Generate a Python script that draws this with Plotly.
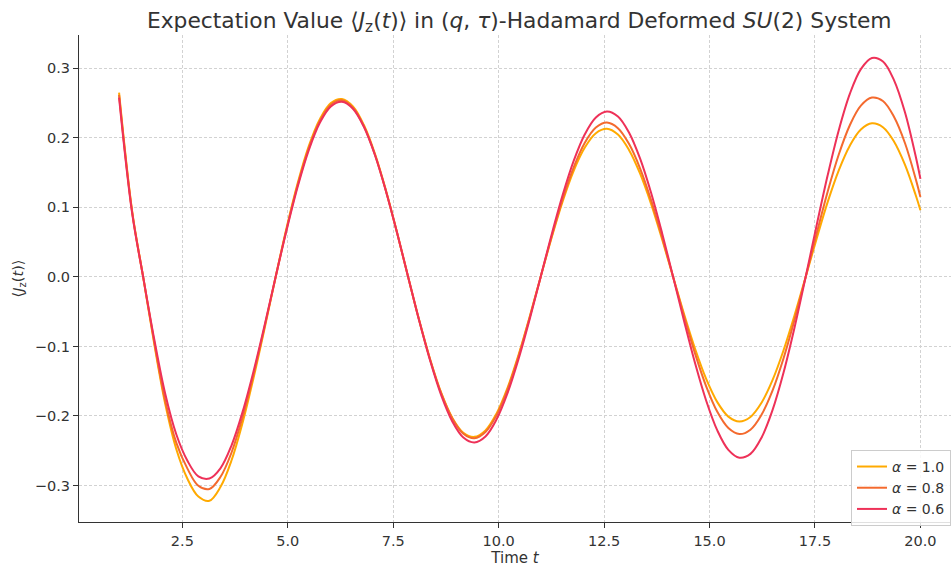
import plotly.graph_objects as go

# time samples
t = [1.0, 1.309, 1.571, 1.833, 2.094, 2.356, 2.618, 2.880, 3.142, 3.403, 3.665,
     3.927, 4.189, 4.451, 4.712, 4.974, 5.236, 5.498, 5.760, 6.021, 6.283,
     6.545, 6.807, 7.069, 7.330, 7.592, 7.854, 8.116, 8.378, 8.639, 8.901,
     9.163, 9.425, 9.687, 9.948, 10.210, 10.472, 10.734, 10.996, 11.257, 11.519,
     11.781, 12.043, 12.305, 12.566, 12.828, 13.090, 13.352, 13.614, 13.875, 14.137,
     14.399, 14.661, 14.923, 15.184, 15.446, 15.708, 15.970, 16.232, 16.493, 16.755,
     17.017, 17.279, 17.541, 17.802, 18.064, 18.326, 18.588, 18.850, 19.111, 19.373,
     19.635, 19.897, 20.0]

jz_a10 = [0.265, 0.095, 0.0, -0.096, -0.1825, -0.2475, -0.290, -0.3159, -0.322, -0.3023, -0.2641,
          -0.210, -0.145, -0.0738, 0.0, 0.0712, 0.135, 0.1881, 0.2269, 0.2502, 0.256,
          0.2453, 0.2182, 0.1768, 0.124, 0.0637, 0.0, -0.0624, -0.119, -0.1669, -0.2026,
          -0.2241, -0.230, -0.2207, -0.1966, -0.1595, -0.112, -0.0576, 0.0, 0.0568, 0.109,
          0.1531, 0.1862, 0.2067, 0.213, 0.2048, 0.1827, 0.1488, 0.105, 0.0542, 0.0,
          -0.054, -0.104, -0.1471, -0.1801, -0.2009, -0.208, -0.2014, -0.181, -0.1485, -0.1055,
          -0.0549, 0.0, 0.0555, 0.108, 0.1534, 0.1888, 0.212, 0.221, 0.2154, 0.1949,
          0.1612, 0.116, 0.096]

jz_a08 = [0.262, 0.094, 0.0, -0.0932, -0.178, -0.2383, -0.2754, -0.3004, -0.305, -0.2878, -0.2529,
          -0.2022, -0.140, -0.0714, 0.0, 0.0694, 0.1325, 0.1853, 0.2243, 0.2478, 0.254,
          0.2434, 0.2165, 0.1754, 0.123, 0.0633, 0.0, -0.0624, -0.1195, -0.1676, -0.2035,
          -0.2255, -0.232, -0.2231, -0.1992, -0.1619, -0.114, -0.0587, 0.0, 0.0582, 0.112,
          0.158, 0.1931, 0.2149, 0.222, 0.2139, 0.1914, 0.1563, 0.1105, 0.0572, 0.0,
          -0.0573, -0.111, -0.1577, -0.194, -0.2173, -0.226, -0.2197, -0.1983, -0.1637, -0.117,
          -0.0613, 0.0, 0.0629, 0.123, 0.1761, 0.2182, 0.2463, 0.258, 0.2531, 0.2304,
          0.1923, 0.139, 0.115]

jz_a06 = [0.258, 0.092, 0.0, -0.0893, -0.168, -0.2263, -0.2641, -0.2869, -0.290, -0.2753, -0.2425,
          -0.1945, -0.1355, -0.0694, 0.0, 0.0678, 0.130, 0.1824, 0.2217, 0.2453, 0.252,
          0.242, 0.2156, 0.175, 0.123, 0.0634, 0.0, -0.0629, -0.121, -0.1704, -0.2078,
          -0.2309, -0.238, -0.2294, -0.2052, -0.1672, -0.118, -0.0611, 0.0, 0.0611, 0.118,
          0.1672, 0.2052, 0.2294, 0.238, 0.2309, 0.2078, 0.1704, 0.121, 0.063, 0.0,
          -0.0641, -0.125, -0.1785, -0.2208, -0.2487, -0.260, -0.2545, -0.2312, -0.1916, -0.1375,
          -0.0723, 0.0, 0.0747, 0.1465, 0.2111, 0.2633, 0.299, 0.315, 0.310, 0.2832,
          0.2365, 0.171, 0.141]

series = [
    ("<i>α</i> = 1.0", jz_a10, "#FFAA00"),
    ("<i>α</i> = 0.8", jz_a08, "#F46A2E"),
    ("<i>α</i> = 0.6", jz_a06, "#EE3158"),
]

FONT = "DejaVu Sans"
TXT = "#333333"
GRID = "#d2d2d2"

fig = go.Figure()
for name, ys, col in series:
    fig.add_trace(go.Scatter(x=t, y=ys, mode="lines", name=name,
                             line=dict(color=col, width=2, shape="spline", smoothing=1.0)))

fig.update_layout(
    width=951, height=568,
    margin=dict(l=79, r=0, t=35, b=46, autoexpand=False),
    paper_bgcolor="white", plot_bgcolor="white",
    font=dict(family=FONT, size=14.5, color=TXT),
    title=dict(text="Expectation Value ⟨<i>J</i><sub>z</sub>(<i>t</i>)⟩ in (<i>q</i>, <i>τ</i>)-Hadamard Deformed <i>SU</i>(2) System",
               x=0.546, xanchor="center", xref="container", y=1 - 20 / 568, yref="container", yanchor="middle",
               font=dict(family=FONT, size=21.8, color=TXT)),
    showlegend=True,
    legend=dict(x=1.0, y=0.148, xanchor="right", yanchor="top",
                bgcolor="rgba(255,255,255,0.85)", bordercolor="#cccccc", borderwidth=1,
                font=dict(family=FONT, size=14, color=TXT), tracegroupgap=2),
)

fig.update_xaxes(range=[0.05, 20.725], tick0=0, dtick=2.5, tickformat=".1f",
                 showline=True, linecolor=TXT, linewidth=1.2, mirror=False,
                 ticks="outside", ticklen=5, tickcolor=TXT, tickwidth=1,
                 showgrid=True, gridcolor=GRID, griddash="3px,2px", gridwidth=0.8,
                 zeroline=False,
                 title=dict(text="Time <i>t</i>", font=dict(family=FONT, size=15, color=TXT), standoff=4))
fig.update_yaxes(range=[-0.3525, 0.348], tick0=0, dtick=0.1, tickformat=".1f",
                 showline=True, linecolor=TXT, linewidth=1.2, mirror=False,
                 ticks="outside", ticklen=5, tickcolor=TXT, tickwidth=1,
                 showgrid=True, gridcolor=GRID, griddash="3px,2px", gridwidth=0.8,
                 zeroline=False)

fig.add_annotation(text="⟨<i>J</i><sub>z</sub>(<i>t</i>)⟩", textangle=-90,
                   xref="paper", yref="paper", x=(18 - 79) / 872, y=0.5,
                   xanchor="center", yanchor="middle", showarrow=False,
                   font=dict(family=FONT, size=14.5, color=TXT))

fig.write_html("out.html")
